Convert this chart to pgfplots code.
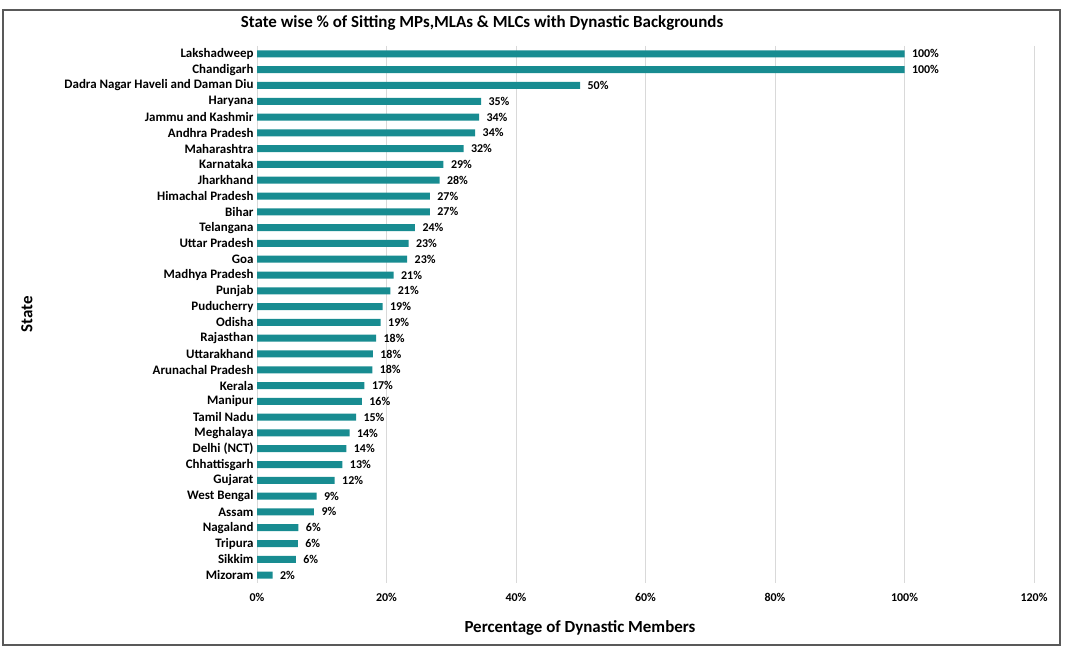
\documentclass[border=0pt]{standalone}
\usepackage{fontspec}
\setmainfont{Carlito}
\usepackage{pgfplots}
\usepackage{pgfplotstable}
\pgfplotsset{compat=1.18}
\definecolor{barteal}{RGB}{24,140,145}
\definecolor{gridgray}{RGB}{217,217,217}

% share of dynastic members (labels are rounded)
\pgfplotstableread[col sep=comma]{
idx,pct,state
0,100,Lakshadweep
1,100,Chandigarh
2,49.9,Dadra Nagar Haveli and Daman Diu
3,34.6,Haryana
4,34.3,Jammu and Kashmir
5,33.7,Andhra Pradesh
6,31.9,Maharashtra
7,28.8,Karnataka
8,28.2,Jharkhand
9,26.7,Himachal Pradesh
10,26.7,Bihar
11,24.4,Telangana
12,23.4,Uttar Pradesh
13,23.2,Goa
14,21.1,Madhya Pradesh
15,20.6,Punjab
16,19.4,Puducherry
17,19.1,Odisha
18,18.4,Rajasthan
19,17.9,Uttarakhand
20,17.8,Arunachal Pradesh
21,16.6,Kerala
22,16.2,Manipur
23,15.3,Tamil Nadu
24,14.3,Meghalaya
25,13.8,Delhi (NCT)
26,13.2,Chhattisgarh
27,12.0,Gujarat
28,9.2,West Bengal
29,8.8,Assam
30,6.4,Nagaland
31,6.3,Tripura
32,6.0,Sikkim
33,2.4,Mizoram
}\datatable

\begin{document}
\begin{tikzpicture}[x=1bp,y=1bp]
\useasboundingbox (0,0) rectangle (1068,648);
\draw[black!65, line width=1.2bp] (3,3) rectangle (1060,638);
\node[font=\bfseries\fontsize{17}{20}\selectfont] at (482,625)
  {State wise \% of Sitting MPs,MLAs \& MLCs with Dynastic Backgrounds};
\begin{axis}[
  at={(257bp,65bp)}, anchor=south west,
  width=777bp, height=537bp, scale only axis,
  xbar, bar width=7bp,
  xmin=0, xmax=120, xtick={0,20,...,120},
  xticklabels={0\%,20\%,40\%,60\%,80\%,100\%,120\%},
  ymin=-0.5, ymax=33.5, y dir=reverse,
  ytick=data, yticklabels from table={\datatable}{state},
  axis line style={draw=none},
  major tick length=0,
  xmajorgrids, grid style={gridgray, line width=0.8bp},
  xticklabel style={font=\bfseries\fontsize{12}{14}\selectfont, yshift=-7bp},
  yticklabel style={font=\bfseries\fontsize{13}{15}\selectfont},
  xlabel={Percentage of Dynastic Members},
  ylabel={State},
  xlabel style={font=\bfseries\fontsize{17}{20}\selectfont,
    at={(axis description cs:0.4157,-0.084)}, anchor=center},
  ylabel style={font=\bfseries\fontsize{17}{20}\selectfont,
    at={(axis description cs:-0.296,0.5)}, anchor=center},
  clip=false,
  /pgf/number format/assume math mode=true,
]
\addplot[fill=barteal, draw=none, point meta=x,
  nodes near coords={\pgfmathprintnumber[fixed,precision=0]{\pgfplotspointmeta}\%},
  nodes near coords style={font=\bfseries\fontsize{12}{14}\selectfont, xshift=4bp}]
  table[x=pct, y=idx]{\datatable};
\end{axis}
\end{tikzpicture}
\end{document}
